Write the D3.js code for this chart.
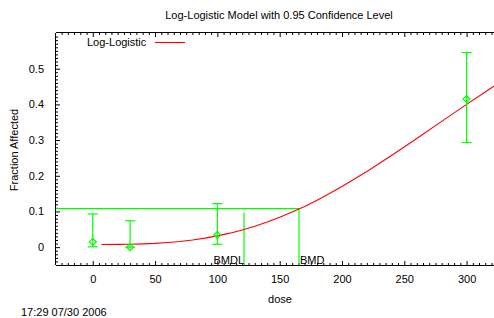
<!DOCTYPE html>
<html>
<head>
<meta charset="utf-8">
<script src="https://cdn.jsdelivr.net/npm/d3@7"></script>
<style>
  html, body { margin: 0; padding: 0; background: #fff; }
  text { font-family: "Liberation Sans", Arial, sans-serif; font-size: 11px; fill: #000; }
</style>
</head>
<body>
<svg id="chart" width="494" height="318"></svg>
<script>
// ---- data ----
const doses = [0, 30, 100, 300];
const observed = [0.015, 0.0, 0.034, 0.415];
const ciLower = [0.001, 0.0, 0.008, 0.293];
const ciUpper = [0.093, 0.074, 0.122, 0.545];

const curveDose = [7, 20, 30, 40, 50, 60, 70, 80, 90, 100, 110, 120, 130, 140, 150, 160, 170, 180, 190, 200, 220, 240, 260, 280, 300, 320, 325];
const curveFrac = [0.0076, 0.0078, 0.0083, 0.0092, 0.0107, 0.0130, 0.0160, 0.0201, 0.0252, 0.0316, 0.0392, 0.0482, 0.0585, 0.0703, 0.0836, 0.0982, 0.1142, 0.1315, 0.1501, 0.1698, 0.2121, 0.2573, 0.3045, 0.3524, 0.4000, 0.4465, 0.458];

const bmr = 0.108;
const bmd = 165.5;
const bmdl = 121.4;
const bmdlTop = 0.097;

const xTicks = [0, 50, 100, 150, 200, 250, 300];
const yTicks = [0, 0.1, 0.2, 0.3, 0.4, 0.5];
const yTickLabels = ["0", "0.1", "0.2", "0.3", "0.4", "0.5"];

const title = "Log-Logistic Model with 0.95 Confidence Level";
const xLabel = "dose";
const yLabel = "Fraction Affected";
const legendLabel = "Log-Logistic";
const timestamp = "17:29 07/30 2006";

// ---- layout ----
const svg = d3.select("#chart");
const L = 56, R = 494, T = 33, B = 265;
const x = d3.scaleLinear().domain([-29.5, 322]).range([L, R]);
const y = d3.scaleLinear().domain([-0.05, 0.6]).range([B, T]);
const green = "#00ff00", red = "#ff0000";

svg.append("defs").append("clipPath").attr("id", "clip")
  .append("rect").attr("x", L).attr("y", T).attr("width", R - L).attr("height", B - T);

// axes with inward ticks
const xMinor = d3.range(-25, 325, 5);
const yMinor = d3.range(-5, 61).map(v => v / 100);

const axBottom = svg.append("g").attr("transform", `translate(0,${B})`)
  .call(d3.axisBottom(x).tickValues(xTicks).tickSize(-4).tickPadding(10).tickFormat(d3.format("d")));
axBottom.select(".domain").attr("d", `M${L},0.5H${R}`);
svg.append("g").attr("transform", `translate(0,${B})`)
  .call(d3.axisBottom(x).tickValues(xMinor.filter(v => v % 50 !== 0)).tickSize(-2).tickFormat(""))
  .select(".domain").remove();

const axTop = svg.append("g").attr("transform", `translate(0,${T})`)
  .call(d3.axisTop(x).tickValues(xTicks).tickSize(-4).tickFormat(""));
axTop.select(".domain").attr("d", `M${L},-0.5H${R}`);
svg.append("g").attr("transform", `translate(0,${T})`)
  .call(d3.axisTop(x).tickValues(xMinor.filter(v => v % 50 !== 0)).tickSize(-2).tickFormat(""))
  .select(".domain").remove();

const axLeft = svg.append("g").attr("transform", `translate(${L},0)`)
  .call(d3.axisLeft(y).tickValues(yTicks).tickSize(-4).tickPadding(12).tickFormat((d, i) => yTickLabels[i]));
axLeft.select(".domain").attr("d", `M-0.5,${T}V${B}`);
svg.append("g").attr("transform", `translate(${L},0)`)
  .call(d3.axisLeft(y).tickValues(yMinor.filter(v => Math.round(v * 100) % 10 !== 0)).tickSize(-2).tickFormat(""))
  .select(".domain").remove();

svg.selectAll(".tick text").style("font-family", '"Liberation Sans", Arial, sans-serif').style("font-size", "11px");
svg.selectAll(".domain").attr("stroke", "#000");

// BMR / BMD / BMDL lines
const g = svg.append("g").attr("clip-path", "url(#clip)");
g.append("line").attr("x1", L).attr("x2", x(bmd)).attr("y1", y(bmr)).attr("y2", y(bmr))
  .attr("stroke", green).attr("stroke-width", 1.2);
g.append("line").attr("x1", x(bmd)).attr("x2", x(bmd)).attr("y1", y(bmr)).attr("y2", B)
  .attr("stroke", green).attr("stroke-width", 1.2);
g.append("line").attr("x1", x(bmdl)).attr("x2", x(bmdl)).attr("y1", y(bmdlTop)).attr("y2", B)
  .attr("stroke", green).attr("stroke-width", 1.2);

// model curve
const line = d3.line().x((d, i) => x(curveDose[i])).y(d => y(d));
g.append("path").datum(curveFrac).attr("d", line)
  .attr("fill", "none").attr("stroke", red).attr("stroke-width", 1.1);

// error bars
const eb = g.selectAll(".eb").data(doses).enter().append("g");
eb.append("line").attr("x1", d => x(d)).attr("x2", d => x(d))
  .attr("y1", (d, i) => y(ciLower[i])).attr("y2", (d, i) => y(ciUpper[i]))
  .attr("stroke", green).attr("stroke-width", 1.2);
eb.append("line").attr("x1", d => x(d) - 5).attr("x2", d => x(d) + 5)
  .attr("y1", (d, i) => y(ciLower[i])).attr("y2", (d, i) => y(ciLower[i]))
  .attr("stroke", green).attr("stroke-width", 1.2);
eb.append("line").attr("x1", d => x(d) - 5).attr("x2", d => x(d) + 5)
  .attr("y1", (d, i) => y(ciUpper[i])).attr("y2", (d, i) => y(ciUpper[i]))
  .attr("stroke", green).attr("stroke-width", 1.2);
eb.append("path").attr("d", (d, i) => {
    const cx = x(d), cy = y(observed[i]);
    return `M${cx - 3.5},${cy}L${cx},${cy - 3.5}L${cx + 3.5},${cy}L${cx},${cy + 3.5}Z`;
  })
  .attr("fill", "none").attr("stroke", green).attr("stroke-width", 1.2);

// BMD labels
svg.append("text").attr("x", x(bmdl)).attr("y", 264).attr("text-anchor", "end").text("BMDL");
svg.append("text").attr("x", x(bmd) + 1).attr("y", 264).attr("text-anchor", "start").text("BMD");

// legend
svg.append("text").attr("x", 87).attr("y", 46).text(legendLabel);
svg.append("line").attr("x1", 155).attr("x2", 185).attr("y1", 42.5).attr("y2", 42.5)
  .attr("stroke", red).attr("stroke-width", 1.1);

// titles
svg.append("text").attr("x", 279).attr("y", 19).attr("text-anchor", "middle").text(title);
svg.append("text").attr("x", 280).attr("y", 303).attr("text-anchor", "middle").text(xLabel);
svg.append("text").attr("transform", "translate(18,150) rotate(-90)").attr("text-anchor", "middle").text(yLabel);
svg.append("text").attr("x", 21).attr("y", 316).text(timestamp);
</script>
</body>
</html>
